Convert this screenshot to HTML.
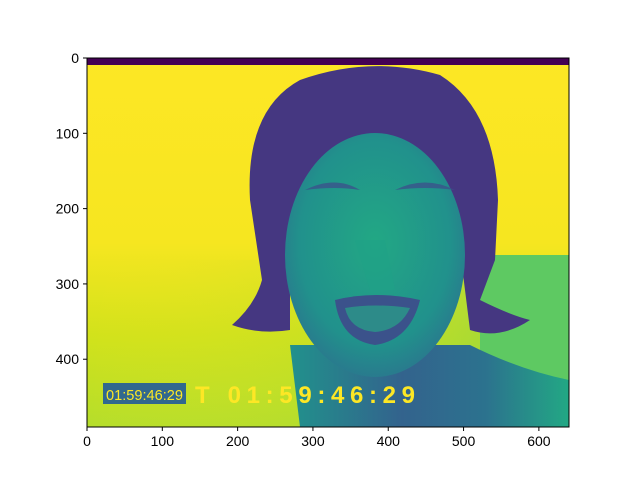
<!DOCTYPE html>
<html><head><meta charset="utf-8"><style>
body{margin:0;background:#fff;font-family:"Liberation Sans",sans-serif}
</style></head><body>
<svg width="640" height="480" viewBox="0 0 640 480">
<defs>
<clipPath id="ax"><rect x="87" y="58" width="482" height="369"/></clipPath>
<linearGradient id="bg" x1="0" y1="0" x2="0" y2="1">
<stop offset="0" stop-color="#fde725"/><stop offset="0.5" stop-color="#f6e620"/><stop offset="0.75" stop-color="#d2e21b"/><stop offset="1" stop-color="#b5de2b"/></linearGradient>
<linearGradient id="bgl" x1="0" y1="0" x2="1" y2="0">
<stop offset="0" stop-color="#fde725" stop-opacity="0"/><stop offset="0.6" stop-color="#a0da39" stop-opacity="0.5"/><stop offset="1" stop-color="#5ec962"/></linearGradient>
<linearGradient id="body" x1="0" y1="0" x2="1" y2="0">
<stop offset="0" stop-color="#21918c"/><stop offset="0.4" stop-color="#33638d"/><stop offset="0.7" stop-color="#2c728e"/><stop offset="1" stop-color="#22a884"/></linearGradient>
<radialGradient id="face" cx="0.5" cy="0.45" r="0.6">
<stop offset="0" stop-color="#22a884"/><stop offset="0.7" stop-color="#21918c"/><stop offset="1" stop-color="#2c728e"/></radialGradient>
</defs>
<g clip-path="url(#ax)">
<rect x="87" y="58" width="482" height="369" fill="url(#bg)"/>
<rect x="87" y="260" width="482" height="167" fill="url(#bgl)" opacity="0.6"/>
<rect x="480" y="255" width="89" height="172" fill="#5ec962"/>
<path d="M300 427 L290 345 L470 345 Q520 370 569 380 L569 427 Z" fill="url(#body)"/>
<path d="M250 200 Q245 110 300 80 Q370 55 440 75 Q495 110 498 200 L495 260 L480 300 Q510 315 530 320 Q500 340 470 330 L460 250 L290 250 L290 330 Q260 335 232 325 Q255 305 262 280 Z" fill="#453781"/>
<ellipse cx="375" cy="255" rx="90" ry="122" fill="url(#face)"/>
<path d="M305 190 Q335 175 360 190 Q335 186 305 190Z M395 190 Q425 175 455 190 Q425 186 395 190Z" fill="#3b528b" opacity="0.8"/>
<path d="M355 240 L370 290 L395 290 L385 240Z" fill="#1fa187" opacity="0.6"/>
<path d="M335 300 Q375 290 420 300 Q410 340 375 345 Q340 340 335 300Z" fill="#3b528b"/>
<path d="M345 308 Q375 303 410 308 Q400 330 375 332 Q350 330 345 308Z" fill="#2a9a88" opacity="0.8"/>
<rect x="87" y="58" width="482" height="7" fill="#440154"/>
<rect x="103" y="383" width="83" height="21" fill="#31688e"/>
<text x="106" y="400" font-size="15" fill="#fde725" textLength="77" lengthAdjust="spacingAndGlyphs">01:59:46:29</text>
<text x="195" y="403" font-size="24" font-weight="bold" fill="#fde725" textLength="220">T 01:59:46:29</text>
</g>
<rect x="87" y="58" width="482" height="369" fill="none" stroke="#000" stroke-width="1"/>
<g id="ticks" font-size="14" fill="#000"></g>
<script>
const xTicks=[0,100,200,300,400,500,600];
const yTicks=[0,100,200,300,400];
const W=640,H=490;
const g=document.getElementById('ticks');
const ns='http://www.w3.org/2000/svg';
const sx=v=>87+v*482/W, sy=v=>58+v*369/H;
xTicks.forEach(t=>{
 const l=document.createElementNS(ns,'line');l.setAttribute('x1',sx(t));l.setAttribute('x2',sx(t));l.setAttribute('y1',427);l.setAttribute('y2',431);l.setAttribute('stroke','#000');
 
 
 g.appendChild(l);
 const tx=document.createElementNS(ns,'text');tx.setAttribute('x',sx(t));tx.setAttribute('y',446);tx.setAttribute('text-anchor','middle');tx.textContent=t;
 
 
 g.appendChild(tx);
});
yTicks.forEach(t=>{
 const l=document.createElementNS(ns,'line');l.setAttribute('x1',83);l.setAttribute('x2',87);l.setAttribute('y1',sy(t));l.setAttribute('y2',sy(t));l.setAttribute('stroke','#000');
 
 
 g.appendChild(l);
 const tx=document.createElementNS(ns,'text');tx.setAttribute('x',79);tx.setAttribute('y',sy(t)+5);tx.setAttribute('text-anchor','end');tx.textContent=t;
 
 
 g.appendChild(tx);
});
</script>
</svg>
</body></html>
